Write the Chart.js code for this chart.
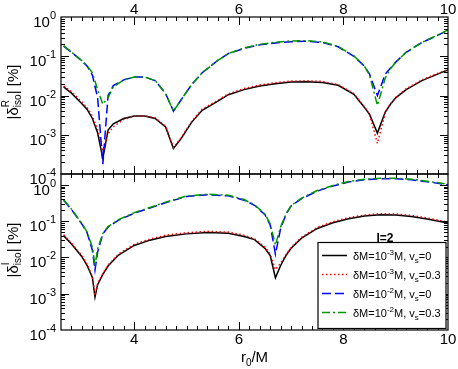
<!DOCTYPE html>
<html>
<head>
<meta charset="utf-8">
<script src="https://cdn.jsdelivr.net/npm/chart.js@4.4.1/dist/chart.umd.min.js"></script>
<style>
  html, body { margin: 0; padding: 0; background: #fff; }
  #wrap { position: relative; width: 458px; height: 369px; }
  #wrap canvas { position: absolute; left: 0; top: 0; }
</style>
</head>
<body>
<div id="wrap">
  <canvas id="topChart" width="458" height="369"></canvas>
  <canvas id="bottomChart" width="458" height="369"></canvas>
</div>
<script>
// r0/M sample points, upper panel (real part)
const rTop = [2.65, 2.8, 3.0, 3.1, 3.2, 3.3, 3.4, 3.5, 3.6, 3.8, 4.0, 4.2, 4.4, 4.6, 4.75, 4.9, 5.1, 5.3, 5.6, 5.8,
  6.1, 6.4, 6.7, 7.0, 7.3, 7.6, 7.9, 8.2, 8.4, 8.5, 8.65, 8.8, 8.9, 9.0, 9.2, 9.5, 9.8, 10.0];
// |delta^R_iso| [%]
const realM3v0 = [1.66e-2, 1.15e-2, 6.2e-3, 4.4e-3, 2.6e-3, 1.12e-3, 2.5e-4, 1.32e-3, 1.9e-3, 2.6e-3, 3.0e-3, 3.0e-3, 2.6e-3, 1.58e-3, 4.5e-4, 8.1e-4, 2.1e-3, 4.2e-3, 7.2e-3, 1.05e-2,
  1.41e-2, 1.74e-2, 2.0e-2, 2.2e-2, 2.24e-2, 2.14e-2, 1.82e-2, 1.07e-2, 5.0e-3, 3.3e-3, 1.1e-3, 3.8e-3, 6.0e-3, 8.7e-3, 1.41e-2, 2.4e-2, 3.5e-2, 4.5e-2];
const realM3v03 = [1.75e-2, 1.25e-2, 6.8e-3, 4.9e-3, 3.0e-3, 1.35e-3, 4.0e-4, 1.05e-3, 1.6e-3, 2.45e-3, 3.0e-3, 3.05e-3, 2.7e-3, 1.65e-3, 4.7e-4, 8.5e-4, 2.2e-3, 4.5e-3, 7.6e-3, 1.1e-2,
  1.5e-2, 1.85e-2, 2.12e-2, 2.33e-2, 2.38e-2, 2.28e-2, 1.9e-2, 1.12e-2, 5.2e-3, 3.3e-3, 6.0e-4, 3.6e-3, 6.1e-3, 9.0e-3, 1.48e-2, 2.5e-2, 3.65e-2, 4.6e-2];
const realM2v0 = [0.182, 0.126, 0.076, 0.056, 0.033, 8.9e-3, 1.78e-4, 1.0e-2, 1.78e-2, 2.5e-2, 2.95e-2, 2.95e-2, 2.4e-2, 1.12e-2, 4.0e-3, 7.9e-3, 1.9e-2, 3.8e-2, 7.9e-2, 0.117,
  0.158, 0.195, 0.219, 0.234, 0.24, 0.224, 0.174, 0.1, 0.056, 0.035, 0.01, 0.035, 0.05, 0.071, 0.126, 0.224, 0.34, 0.46];
const realM2v03 = [0.186, 0.128, 0.077, 0.057, 0.038, 1.41e-2, 6.0e-3, 8.9e-3, 1.66e-2, 2.5e-2, 2.95e-2, 2.95e-2, 2.4e-2, 1.12e-2, 4.0e-3, 7.9e-3, 1.9e-2, 3.8e-2, 7.9e-2, 0.118,
  0.162, 0.202, 0.228, 0.245, 0.25, 0.232, 0.178, 0.102, 0.056, 0.033, 5.6e-3, 0.028, 0.048, 0.07, 0.126, 0.226, 0.345, 0.47];

// r0/M sample points, lower panel (imaginary part)
const rBottom = [2.65, 2.8, 3.0, 3.1, 3.2, 3.25, 3.3, 3.4, 3.5, 3.7, 4.0, 4.3, 4.6, 5.0, 5.4, 5.8, 6.1, 6.3, 6.5, 6.6,
  6.7, 6.8, 6.9, 7.0, 7.2, 7.5, 7.8, 8.1, 8.4, 8.7, 9.0, 9.3, 9.6, 10.0];
// |delta^I_iso| [%]
const imagM3v0 = [0.04, 0.0234, 0.0105, 6.0e-3, 2.8e-3, 8.1e-4, 1.78e-3, 3.4e-3, 5.8e-3, 0.0117, 0.0214, 0.030, 0.038, 0.0447, 0.049, 0.0468, 0.038, 0.031, 0.0178, 0.0112,
  2.75e-3, 6.0e-3, 0.0112, 0.018, 0.034, 0.063, 0.091, 0.117, 0.138, 0.151, 0.148, 0.135, 0.115, 0.089];
const imagM3v03 = [0.042, 0.025, 0.0112, 6.4e-3, 3.0e-3, 9.0e-4, 1.9e-3, 3.6e-3, 6.2e-3, 0.0125, 0.023, 0.032, 0.041, 0.048, 0.0525, 0.05, 0.041, 0.033, 0.019, 0.0125,
  4.6e-3, 7.0e-3, 0.0118, 0.019, 0.036, 0.067, 0.097, 0.125, 0.147, 0.161, 0.158, 0.144, 0.123, 0.094];
const imagM2v0 = [0.38, 0.21, 0.083, 0.048, 0.0158, 4.5e-3, 0.0141, 0.0447, 0.069, 0.107, 0.166, 0.229, 0.324, 0.479, 0.537, 0.50, 0.38, 0.275, 0.151, 0.079,
  0.0123, 0.063, 0.151, 0.263, 0.417, 0.676, 0.933, 1.2, 1.38, 1.48, 1.48, 1.38, 1.23, 1.0];
const imagM2v03 = [0.39, 0.215, 0.086, 0.05, 0.019, 6.0e-3, 0.017, 0.046, 0.071, 0.11, 0.172, 0.238, 0.335, 0.495, 0.555, 0.52, 0.395, 0.285, 0.156, 0.085,
  0.022, 0.07, 0.156, 0.272, 0.432, 0.70, 0.965, 1.24, 1.43, 1.53, 1.53, 1.43, 1.27, 1.04];

const xTickLabels = [4, 6, 8, 10];
const yTickExps = [-4, -3, -2, -1, 0];
// legend text pieces: [main, superscript, main, subscript, main]
const legendLabels = [
  ['\u03b4M=10', '-3', 'M, v', 's', '=0'],
  ['\u03b4M=10', '-3', 'M, v', 's', '=0.3'],
  ['\u03b4M=10', '-2', 'M, v', 's', '=0'],
  ['\u03b4M=10', '-2', 'M, v', 's', '=0.3']
];
const legendTitle = 'l=2';

const seriesStyles = [
  { color: '#000000', dash: [] },
  { color: '#ff0000', dash: [1.5, 2.5] },
  { color: '#0000ff', dash: [9, 4] },
  { color: '#009600', dash: [8, 3, 2, 3] }
];

const FONT = '"Liberation Sans", Arial, Helvetica, sans-serif';

function buildSets(xs, series) {
  return series.map((vals, i) => ({
    data: vals.map((v, j) => ({ x: xs[j], y: v })),
    borderColor: seriesStyles[i].color,
    borderDash: seriesStyles[i].dash,
    borderWidth: 1.5,
    pointRadius: 0,
    fill: false,
    tension: 0,
    order: 3 - i
  }));
}

// draw text made of pieces (size, vertical shift), left aligned
function drawRich(ctx, parts, x, y) {
  let cx = x, stackW = 0, stackX = null;
  for (const p of parts) {
    ctx.font = (p.bold ? 'bold ' : '') + p.size + 'px ' + FONT;
    const w = ctx.measureText(p.t).width;
    if (p.stack) {
      stackX = cx; stackW = w;
      ctx.fillText(p.t, cx, y + (p.dy || 0));
      continue;
    }
    ctx.fillText(p.t, cx, y + (p.dy || 0));
    if (stackX !== null) { cx = stackX + Math.max(w, stackW); stackX = null; }
    else cx += w;
  }
  return cx - x;
}
function richWidth(ctx, parts) {
  let w = 0, stackW = 0, stacked = false;
  for (const p of parts) {
    ctx.font = (p.bold ? 'bold ' : '') + p.size + 'px ' + FONT;
    const pw = ctx.measureText(p.t).width;
    if (p.stack) { stackW = pw; stacked = true; continue; }
    if (stacked) { w += Math.max(pw, stackW); stacked = false; } else w += pw;
  }
  return w;
}

const framePlugin = {
  id: 'frame',
  afterDraw(chart, args, opts) {
    const ctx = chart.ctx, a = chart.chartArea;
    const xs = chart.scales.x, ys = chart.scales.y;
    ctx.save();
    ctx.setLineDash([]);
    ctx.strokeStyle = '#000';
    ctx.lineWidth = 1.2;
    ctx.strokeRect(a.left, a.top, a.right - a.left, a.bottom - a.top);

    // ticks pointing inwards on all four sides
    ctx.lineWidth = 1;
    ctx.beginPath();
    for (let i = 13; i <= 50; i++) {
      const v = i / 5;
      if (v <= xs.min + 1e-6 || v >= xs.max - 1e-6) continue;
      const px = Math.round(xs.getPixelForValue(v)) + 0.5;
      const len = i % 10 === 0 ? 8 : 4;
      ctx.moveTo(px, a.top); ctx.lineTo(px, a.top + len);
      ctx.moveTo(px, a.bottom); ctx.lineTo(px, a.bottom - len);
    }
    for (let e = -4; e <= 0; e++) {
      for (let m = 1; m <= 9; m++) {
        const v = m * Math.pow(10, e);
        if (v <= ys.min * 1.0001 || v >= ys.max * 0.9999) continue;
        const py = Math.round(ys.getPixelForValue(v)) + 0.5;
        const len = m === 1 ? 8 : 4;
        ctx.moveTo(a.left, py); ctx.lineTo(a.left + len, py);
        ctx.moveTo(a.right, py); ctx.lineTo(a.right - len, py);
      }
    }
    ctx.stroke();

    ctx.fillStyle = '#000';
    ctx.textBaseline = 'alphabetic';

    // y tick labels 10^n
    yTickExps.forEach(e => {
      const v = Math.pow(10, e);
      if (v < ys.min * 0.999 || v > ys.max * 1.001) return;
      const py = ys.getPixelForValue(v);
      const parts = [{ t: '10', size: 15 }, { t: String(e), size: 11, dy: -8 }];
      const w = richWidth(ctx, parts);
      drawRich(ctx, parts, a.left - 5 - w, py + 10);
    });

    // x tick labels
    ctx.font = '15px ' + FONT;
    ctx.textAlign = 'center';
    xTickLabels.forEach(v => {
      const px = xs.getPixelForValue(v);
      ctx.fillText(String(v), px, opts.xLabelPos === 'top' ? a.top - 3.5 : a.bottom + 14);
    });
    ctx.textAlign = 'left';

    // y axis title, rotated
    const tparts = [
      { t: '|\u03b4', size: 15 },
      { t: opts.part, size: 10, dy: -9, stack: true },
      { t: 'iso', size: 10, dy: 3.5 },
      { t: '| [%]', size: 15 }
    ];
    const tw = richWidth(ctx, tparts);
    ctx.save();
    ctx.translate(17.5, opts.titleY);
    ctx.rotate(-Math.PI / 2);
    drawRich(ctx, tparts, -tw / 2, 0);
    ctx.restore();

    if (opts.xTitle) {
      const xp = [{ t: 'r', size: 15 }, { t: '0', size: 10, dy: 4 }, { t: '/M', size: 15 }];
      const xw = richWidth(ctx, xp);
      drawRich(ctx, xp, (a.left + a.right) / 2 - xw / 2, 362);
    }

    if (opts.legend) {
      const bx = 318, by = 242.5, bw = 128, bh = 86;
      ctx.fillStyle = '#fff';
      ctx.fillRect(bx, by, bw, bh);
      ctx.strokeStyle = '#000';
      ctx.lineWidth = 1.2;
      ctx.strokeRect(bx, by, bw, bh);
      ctx.fillStyle = '#000';
      ctx.font = 'bold 12px ' + FONT;
      ctx.textAlign = 'center';
      ctx.fillText(legendTitle, bx + bw / 2 + 3, by - 1);
      ctx.textAlign = 'left';
      chart.data.datasets.forEach((ds, i) => {
        const ry = by + 13 + i * 19;
        ctx.beginPath();
        ctx.strokeStyle = ds.borderColor;
        ctx.lineWidth = 1.5;
        ctx.setLineDash(ds.borderDash);
        ctx.moveTo(bx + 4, ry); ctx.lineTo(bx + 29, ry);
        ctx.stroke();
        ctx.setLineDash([]);
        const L = legendLabels[i];
        drawRich(ctx, [
          { t: L[0], size: 11 }, { t: L[1], size: 8, dy: -5 },
          { t: L[2], size: 11 }, { t: L[3], size: 8, dy: 3 },
          { t: L[4], size: 11 }
        ], bx + 35, ry + 4);
      });
    }
    ctx.restore();
  }
};

function axisOptions(xPos, xSize, yMax) {
  return {
    x: {
      type: 'linear', min: 2.6, max: 10, position: xPos,
      grid: { display: false }, border: { display: false }, ticks: { display: false },
      afterFit(s) { s.height = xSize; }
    },
    y: {
      type: 'logarithmic', min: 1e-4, max: yMax, position: 'left',
      grid: { display: false }, border: { display: false }, ticks: { display: false },
      afterFit(s) { s.width = 61; }
    }
  };
}

new Chart(document.getElementById('topChart'), {
  type: 'line',
  data: { datasets: buildSets(rTop, [realM3v0, realM3v03, realM2v0, realM2v03]) },
  options: {
    responsive: false, animation: false, devicePixelRatio: 1,
    layout: { padding: { left: 0, right: 10, top: 0, bottom: 195 } },
    scales: axisOptions('top', 17, 1),
    plugins: {
      legend: { display: false }, tooltip: { enabled: false },
      frame: { xLabelPos: 'top', part: 'R', titleY: 92, legend: false, xTitle: false }
    }
  },
  plugins: [framePlugin]
});

new Chart(document.getElementById('bottomChart'), {
  type: 'line',
  data: { datasets: buildSets(rBottom, [imagM3v0, imagM3v03, imagM2v0, imagM2v03]) },
  options: {
    responsive: false, animation: false, devicePixelRatio: 1,
    layout: { padding: { left: 0, right: 10, top: 174, bottom: 0 } },
    scales: axisOptions('bottom', 39, 2),
    plugins: {
      legend: { display: false }, tooltip: { enabled: false },
      frame: { xLabelPos: 'bottom', part: 'I', titleY: 250, legend: true, xTitle: true }
    }
  },
  plugins: [framePlugin]
});
</script>
</body>
</html>
